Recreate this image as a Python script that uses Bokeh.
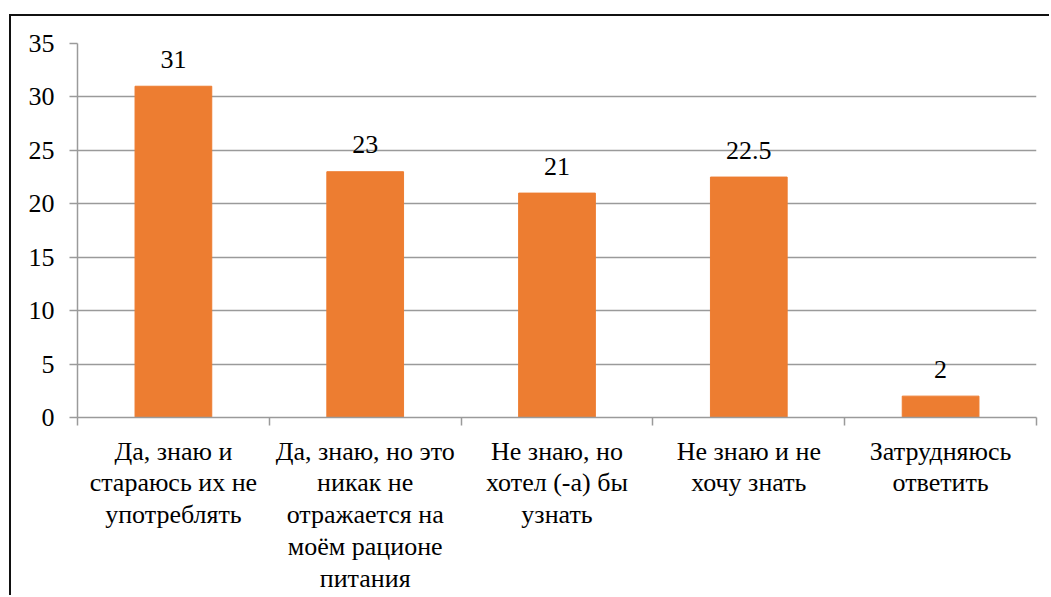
from bokeh.plotting import figure
from bokeh.models import Range1d, FixedTicker
from bokeh.core.properties import value
from bokeh.embed import file_html
from bokeh.resources import INLINE

categories = [
    "Да, знаю и\nстараюсь их не\nупотреблять",
    "Да, знаю, но это\nникак не\nотражается на\nмоём рационе\nпитания",
    "Не знаю, но\nхотел (-а) бы\nузнать",
    "Не знаю и не\nхочу знать",
    "Затрудняюсь\nответить",
]
values = [31, 23, 21, 22.5, 2]
value_labels = ["31", "23", "21", "22.5", "2"]
y_ticks = [0, 5, 10, 15, 20, 25, 30, 35]

FONT = "Liberation Serif"
FS = "26px"
GRID = "#9a9a9a"

n = len(categories)
xs = [2 * i + 1 for i in range(n)]

p = figure(width=1040, height=581, output_backend="svg", toolbar_location=None,
           x_range=Range1d(0, 2 * n), y_range=Range1d(0, 35),
           min_border_left=66, min_border_top=27, min_border_right=15, min_border_bottom=180)
p.margin = (14, 0, 0, 9)
p.styles = {"border-left": "2px solid #111111", "border-top": "2px solid #111111"}
p.outline_line_color = None
p.background_fill_color = "white"
p.border_fill_color = "white"

p.vbar(x=xs, top=values, width=0.8, color="#ED7D31")
p.text(x=xs, y=values, text=value_labels, text_align="center", text_baseline="middle",
       y_offset=-27, text_font=value(FONT), text_font_size=FS, text_color="#000000")

# x axis
xa = p.xaxis[0]
xa.ticker = FixedTicker(ticks=xs, minor_ticks=list(range(0, 2 * n + 1, 2)))
xa.major_label_overrides = {x: c for x, c in zip(xs, categories)}
xa.major_tick_out = 0
xa.major_tick_in = 0
xa.minor_tick_out = 8
xa.minor_tick_in = 0
xa.minor_tick_line_color = GRID
xa.minor_tick_line_width = 1.5
xa.axis_line_color = GRID
xa.axis_line_width = 1.5
xa.major_label_standoff = 11
xa.major_label_text_font = FONT
xa.major_label_text_font_size = FS
xa.major_label_text_color = "#000000"
xa.major_label_text_line_height = 1.1

# y axis
ya = p.yaxis[0]
ya.ticker = FixedTicker(ticks=y_ticks)
ya.major_tick_out = 8
ya.major_tick_in = 0
ya.minor_tick_out = 0
ya.minor_tick_in = 0
ya.major_tick_line_color = GRID
ya.major_tick_line_width = 1.5
ya.axis_line_color = GRID
ya.axis_line_width = 1.5
ya.major_label_standoff = 15
ya.major_label_text_font = FONT
ya.major_label_text_font_size = FS
ya.major_label_text_color = "#000000"

p.xgrid.visible = False
p.ygrid.ticker = FixedTicker(ticks=y_ticks)
p.ygrid.grid_line_color = GRID
p.ygrid.grid_line_width = 1.5

open("out.html", "w").write(file_html(p, INLINE))
